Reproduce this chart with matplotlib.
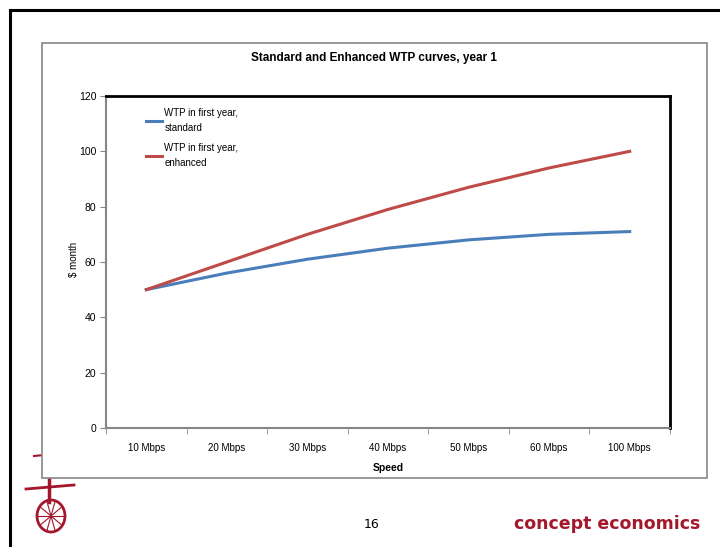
import matplotlib.pyplot as plt
import numpy as np
from matplotlib.patches import Rectangle, Ellipse
from matplotlib.lines import Line2D

plt.rcParams['font.family'] = ['Liberation Sans', 'DejaVu Sans']

speeds = ['10 Mbps', '20 Mbps', '30 Mbps', '40 Mbps', '50 Mbps', '60 Mbps', '100 Mbps']
wtp_standard = [50, 56, 61, 65, 68, 70, 71]
wtp_enhanced = [50, 60, 70, 79, 87, 94, 100]
y_ticks = [0, 20, 40, 60, 80, 100, 120]

BLUE = '#4a7ebb'
RED = '#be4b48'
GREY = '#868686'
BRAND = '#a3172b'

W, H = 720, 547
fig = plt.figure(figsize=(7.2, 5.47), dpi=100)


def fx(px):
    return px / W


def fy(py):
    return 1 - py / H


# slide frame
fig.add_artist(Line2D([fx(10), fx(10)], [fy(10), 0], color='black', lw=2.2))
fig.add_artist(Line2D([fx(10), 1], [fy(10), fy(10)], color='black', lw=2.2))

# little unicycle logo (partly hidden behind the chart area)
fig.add_artist(Line2D([fx(26), fx(74)], [fy(489), fy(485)], color=BRAND, lw=2, zorder=1))
fig.add_artist(Line2D([fx(49), fx(49)], [fy(470), fy(502)], color=BRAND, lw=2.5, zorder=1))
fig.add_artist(Line2D([fx(34), fx(44)], [fy(456), fy(455)], color=BRAND, lw=1.5, zorder=1))
fig.add_artist(Ellipse((fx(51), fy(516)), fx(28), fy(0) - fy(32), fill=False,
                       edgecolor=BRAND, lw=2, zorder=1))
for ang in np.linspace(0, np.pi, 5, endpoint=False):
    dx, dy = 13 * np.cos(ang), 15 * np.sin(ang)
    fig.add_artist(Line2D([fx(51 - dx), fx(51 + dx)], [fy(516 - dy), fy(516 + dy)],
                          color=BRAND, lw=0.8, zorder=1))

# chart area
fig.add_artist(Rectangle((fx(42), fy(478)), fx(707) - fx(42), fy(43) - fy(478),
                         facecolor='white', edgecolor=GREY, lw=1.2, zorder=2))

ax = fig.add_axes([fx(106), fy(428), fx(670) - fx(106), fy(96) - fy(428)])
ax.set_zorder(3)
x = np.arange(len(speeds))
ax.plot(x, wtp_standard, color=BLUE, lw=2.2, label='WTP in first year,\nstandard')
ax.plot(x, wtp_enhanced, color=RED, lw=2.2, label='WTP in first year,\nenhanced')

ax.set_xlim(-0.5, len(speeds) - 0.5)
ax.set_ylim(0, 120)
ax.set_yticks(y_ticks)
ax.set_yticklabels([str(v) for v in y_ticks], fontsize=7.5)
ax.set_xticks(x)
ax.set_xticklabels(speeds, fontsize=7)
ax.set_xticks(np.arange(-0.5, len(speeds), 1), minor=True)
ax.tick_params(axis='x', which='major', length=0, pad=11)
ax.tick_params(axis='x', which='minor', length=4, color=GREY, direction='out')
ax.tick_params(axis='y', length=4, color=GREY, direction='out', pad=3)

for side in ['left', 'bottom']:
    ax.spines[side].set_color(GREY)
    ax.spines[side].set_linewidth(1.5)
for side in ['top', 'right']:
    ax.spines[side].set_color('black')
    ax.spines[side].set_linewidth(2)

ax.set_xlabel('Speed', fontsize=7.5, fontweight='bold', labelpad=7)
fig.text(fx(74), fy(259), '$ month', rotation=90, fontsize=7, ha='center', va='center',
         zorder=4)
fig.text(fx(374), fy(58), 'Standard and Enhanced WTP curves, year 1',
         fontsize=8.5, fontweight='bold', ha='center', va='center', zorder=4)

leg = ax.legend(loc='upper left', bbox_to_anchor=(0.055, 0.991), frameon=False, fontsize=7,
                handlelength=1.7, handletextpad=0.2, labelspacing=1.1)
for t in leg.get_texts():
    t.set_linespacing(1.6)

# footer
fig.text(fx(372), fy(524), '16', fontsize=9, ha='center', va='center', family='DejaVu Sans')
fig.text(fx(700), fy(524), 'concept economics', fontsize=12.5, fontweight='bold',
         color=BRAND, ha='right', va='center', family='DejaVu Sans')

fig.savefig('out.png', dpi=100)
